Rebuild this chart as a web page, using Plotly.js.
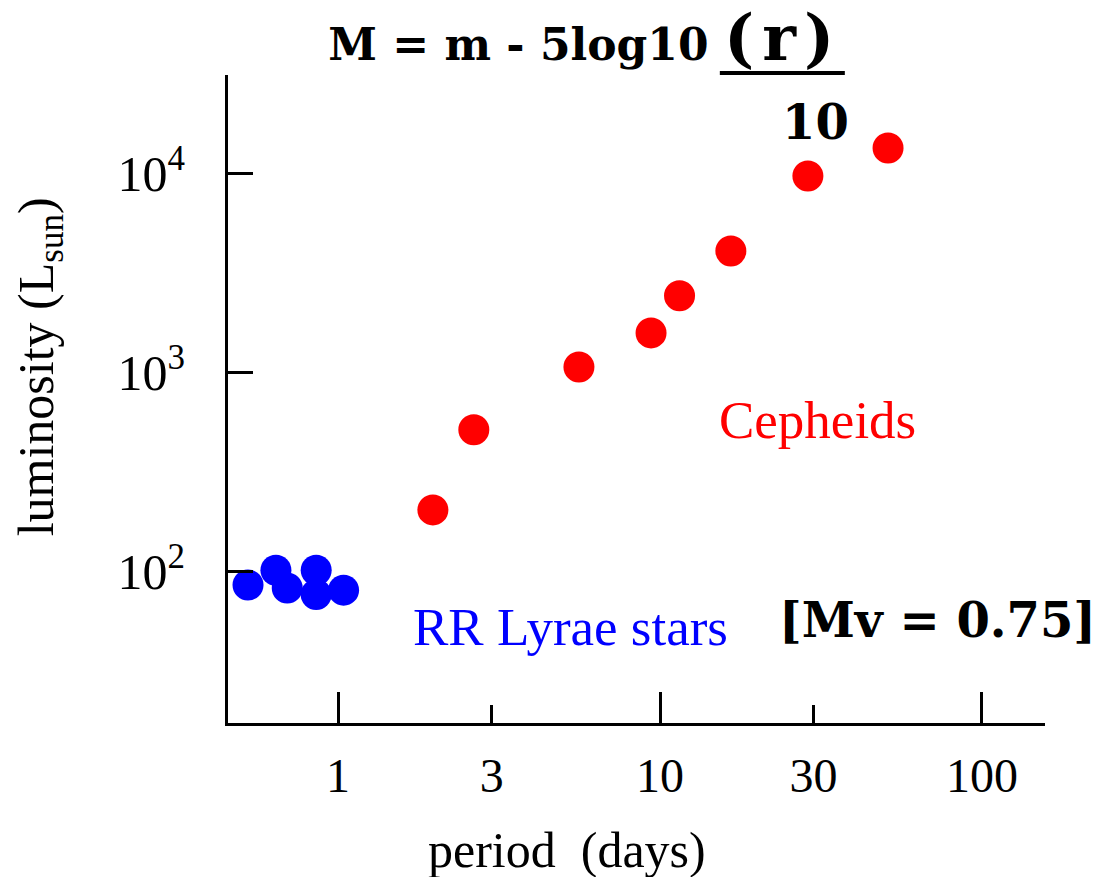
<!DOCTYPE html>
<html>
<head>
<meta charset="utf-8">
<script src="https://cdn.plot.ly/plotly-3.0.1.min.js"></script>
<style>html,body{margin:0;padding:0;background:#fff;}#chart{width:1100px;height:877px;}</style>
</head>
<body>
<div id="chart"></div>
<script>
// RR Lyrae stars (period in days, luminosity in L_sun)
const rrPeriod = [0.525, 0.641, 0.695, 0.855, 0.855, 1.04];
const rrLum    = [86, 102, 83, 102, 77, 81];
// Cepheids
const cephPeriod = [1.97, 2.64, 5.6, 9.38, 11.5, 16.6, 28.8, 51.1];
const cephLum    = [205, 518, 1072, 1589, 2440, 4100, 9770, 13500];
// Tick values / labels
const xTickVals = [1, 3, 10, 30, 100];
const xTickText = ['1', '3', '10', '30', '100'];
const xMajorVals = [1, 10, 100];
const yTickVals = [100, 1000, 10000];
const yTickText = ['10<sup>2</sup>', '10<sup>3</sup>', '10<sup>4</sup>'];

const serif = 'Liberation Serif, Times New Roman, serif';
const boldFont = 'DejaVu Serif, serif';
const xRange = [-0.342, 2.196];
const yRange = [1.241, 4.497];

const traces = [
  {x: rrPeriod, y: rrLum, type: 'scatter', mode: 'markers', name: 'RR Lyrae stars',
   marker: {color: '#0000FF', size: 31, line: {width: 0}}, xaxis: 'x', yaxis: 'y'},
  {x: cephPeriod, y: cephLum, type: 'scatter', mode: 'markers', name: 'Cepheids',
   marker: {color: '#FF0000', size: 31, line: {width: 0}}, xaxis: 'x2', yaxis: 'y'}
];

const layout = {
  width: 1100, height: 877,
  margin: {l: 228, r: 55, t: 75, b: 154},
  paper_bgcolor: '#fff', plot_bgcolor: '#fff',
  showlegend: false,
  title: {text: '<b>M = m - 5log10 <span style="font-size:64px;letter-spacing:8px">(r)</span></b>', x: 0.532, xref: 'container', xanchor: 'center',
          y: 0.949, yref: 'container', yanchor: 'middle',
          font: {family: boldFont, size: 44, color: '#000'}},
  xaxis: {type: 'log', range: xRange, tickmode: 'array', tickvals: xTickVals, ticktext: xTickText,
          ticks: 'inside', ticklen: 18, tickwidth: 3, tickcolor: '#000',
          showline: true, linewidth: 3, linecolor: '#000', showgrid: false, zeroline: false,
          ticklabelstandoff: 8,
          tickfont: {family: serif, size: 48, color: '#000'}},
  xaxis2: {type: 'log', range: xRange, overlaying: 'x', anchor: 'y', side: 'bottom',
           tickmode: 'array', tickvals: xMajorVals, ticks: 'inside', ticklen: 31, tickwidth: 3, tickcolor: '#000',
           showticklabels: false, showline: false, showgrid: false, zeroline: false},
  yaxis: {type: 'log', range: yRange, tickmode: 'array', tickvals: yTickVals, ticktext: yTickText,
          ticks: 'inside', ticklen: 25, tickwidth: 3, tickcolor: '#000',
          showline: true, linewidth: 3, linecolor: '#000', showgrid: false, zeroline: false,
          ticklabelstandoff: 30,
          tickfont: {family: serif, size: 50, color: '#000'}},
  shapes: [
    {type: 'line', xref: 'paper', yref: 'paper', x0: 0.602, x1: 0.755, y0: 1.003, y1: 1.003,
     line: {color: '#000', width: 4}}
  ],
  annotations: [
    {text: 'period\u00a0 (days)', xref: 'paper', yref: 'paper', x: 0.415, y: -0.196, showarrow: false,
     xanchor: 'center', yanchor: 'middle', font: {family: serif, size: 50, color: '#000'}},
    {text: 'luminosity (L<sub>sun</sub>)', xref: 'paper', yref: 'paper', x: -0.230, y: 0.549, showarrow: false,
     textangle: -90, xanchor: 'center', yanchor: 'middle', font: {family: serif, size: 50, color: '#000'}},
    {text: '<b>10</b>', xref: 'paper', yref: 'paper', x: 0.719, y: 0.927, showarrow: false,
     xanchor: 'center', yanchor: 'middle', font: {family: boldFont, size: 48, color: '#000'}},
    {text: 'Cepheids', xref: 'paper', yref: 'paper', x: 0.721, y: 0.468, showarrow: false,
     xanchor: 'center', yanchor: 'middle', font: {family: serif, size: 53, color: '#FF0000'}},
    {text: 'RR Lyrae stars', xref: 'paper', yref: 'paper', x: 0.419, y: 0.148, showarrow: false,
     xanchor: 'center', yanchor: 'middle', font: {family: serif, size: 53, color: '#0000FF'}},
    {text: '<b>[Mv = 0.75]</b>', xref: 'paper', yref: 'paper', x: 0.869, y: 0.159, showarrow: false,
     xanchor: 'center', yanchor: 'middle', font: {family: boldFont, size: 48, color: '#000'}}
  ]
};

Plotly.newPlot('chart', traces, layout, {displayModeBar: false, staticPlot: true});
</script>
</body>
</html>
